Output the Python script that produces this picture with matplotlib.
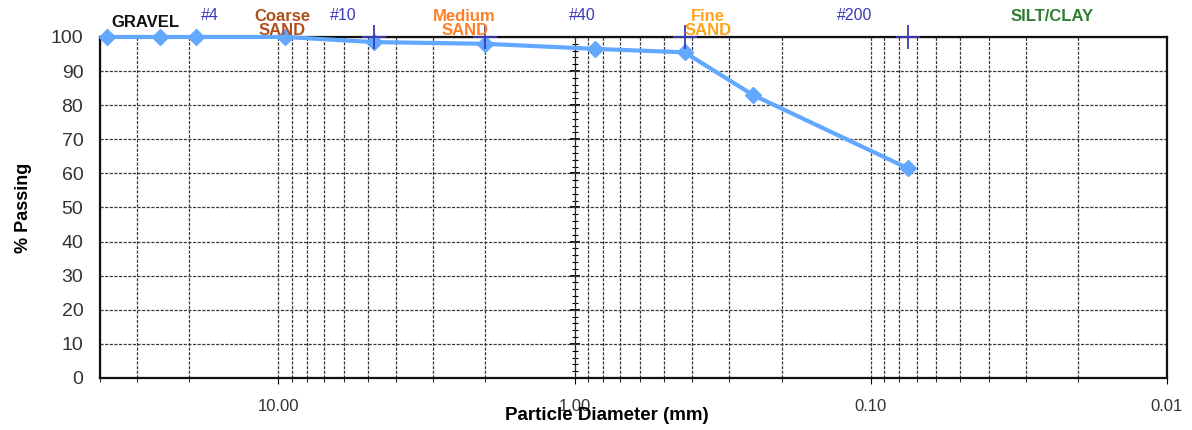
import matplotlib

matplotlib.use("Agg")

import matplotlib.pyplot as plt
from matplotlib.ticker import FixedLocator, FormatStrFormatter, LogLocator, NullFormatter, MultipleLocator

plt.rcParams["font.family"] = ["Liberation Sans", "DejaVu Sans"]

# sieve analysis data
sizes_mm = [38.0, 25.0, 19.0, 9.5, 4.75, 2.0, 0.85, 0.425, 0.25, 0.075]
passing = [100, 100, 100, 100, 98.5, 98.0, 96.5, 95.5, 83.0, 61.5]

# sieve boundary markers (#4, #10, #40, #200)
boundary_mm = [4.75, 2.0, 0.425, 0.075]
boundary_y = [100, 100, 100, 100]

# labels along the top of the chart
zone_labels = ["GRAVEL", "Coarse\nSAND", "Medium\nSAND", "Fine\nSAND", "SILT/CLAY"]
zone_x = [28.0, 9.7, 2.35, 0.355, 0.0245]
zone_y = [1.041, 1.04, 1.04, 1.04, 1.059]
zone_colors = ["#111111", "#b0501a", "#ff7f27", "#ffa31a", "#2e7d32"]
sieve_labels = ["#4", "#10", "#40", "#200"]
sieve_x = [17.0, 6.05, 0.945, 0.113]

x_ticks = [10, 1, 0.1, 0.01]

fig = plt.figure(figsize=(11.92, 4.30), dpi=100)
ax = fig.add_axes([0.0839, 0.121, 0.8951, 0.793])

ax.set_xscale("log")
ax.set_xlim(40, 0.01)
ax.set_ylim(0, 100)

ax.xaxis.set_major_locator(FixedLocator(x_ticks))
ax.xaxis.set_major_formatter(FormatStrFormatter("%.2f"))
ax.xaxis.set_minor_locator(LogLocator(base=10, subs=range(2, 10)))
ax.xaxis.set_minor_formatter(NullFormatter())
ax.yaxis.set_major_locator(MultipleLocator(10))

grid_style = dict(color="#3a3a3a", linestyle=(0, (2.5, 1.2)), linewidth=0.9)
ax.grid(True, which="both", axis="x", **grid_style)
ax.grid(True, which="major", axis="y", **grid_style)
ax.set_axisbelow(True)

for side in ["left", "bottom", "top", "right"]:
    ax.spines[side].set_linewidth(1.6)
    ax.spines[side].set_color("#111111")

ax.tick_params(axis="x", which="major", length=4, labelsize=12, labelcolor="#333333", pad=11)
ax.tick_params(axis="x", which="minor", length=3)
ax.tick_params(axis="y", which="major", length=0, labelsize=14, labelcolor="#333333", pad=12)

# vertical axis drawn at 1.00 mm
loc = ax.transAxes.inverted().transform(ax.transData.transform((1.0, 0)))[0]
sec = ax.secondary_yaxis(loc)
sec.spines["right"].set_linewidth(1.2)
sec.yaxis.set_major_locator(MultipleLocator(10))
sec.yaxis.set_minor_locator(MultipleLocator(2))
sec.tick_params(which="major", direction="inout", length=7, width=1.3, labelright=False, labelleft=False)
sec.tick_params(which="minor", direction="inout", length=4.5, width=0.8)

ax.plot(sizes_mm, passing, color="#62a8ff", linewidth=3, marker="D", markersize=8,
        markerfacecolor="#62a8ff", markeredgecolor="#62a8ff", zorder=4, clip_on=False)
ax.plot(boundary_mm, boundary_y, linestyle="none", marker="+", markersize=17,
        markeredgewidth=1.3, color="#3a3ab8", zorder=5, clip_on=False)

for text, x, y, c in zip(zone_labels, zone_x, zone_y, zone_colors):
    ax.text(x, y, text, transform=ax.get_xaxis_transform(), ha="center", va="center",
            fontsize=12, fontweight="bold", color=c, linespacing=0.95, zorder=6)
for text, x in zip(sieve_labels, sieve_x):
    ax.text(x, 1.062, text, transform=ax.get_xaxis_transform(), ha="center", va="center",
            fontsize=11.5, color="#3a3ab8")

ax.set_ylabel("% Passing", fontsize=13, fontweight="bold")
ax.yaxis.set_label_coords(-0.064, 0.5)
ax.set_xlabel("Particle Diameter (mm)", fontsize=13.5, fontweight="bold")
ax.xaxis.set_label_coords(0.475, -0.085)

fig.savefig("out.png", dpi=100)
plt.close(fig)
